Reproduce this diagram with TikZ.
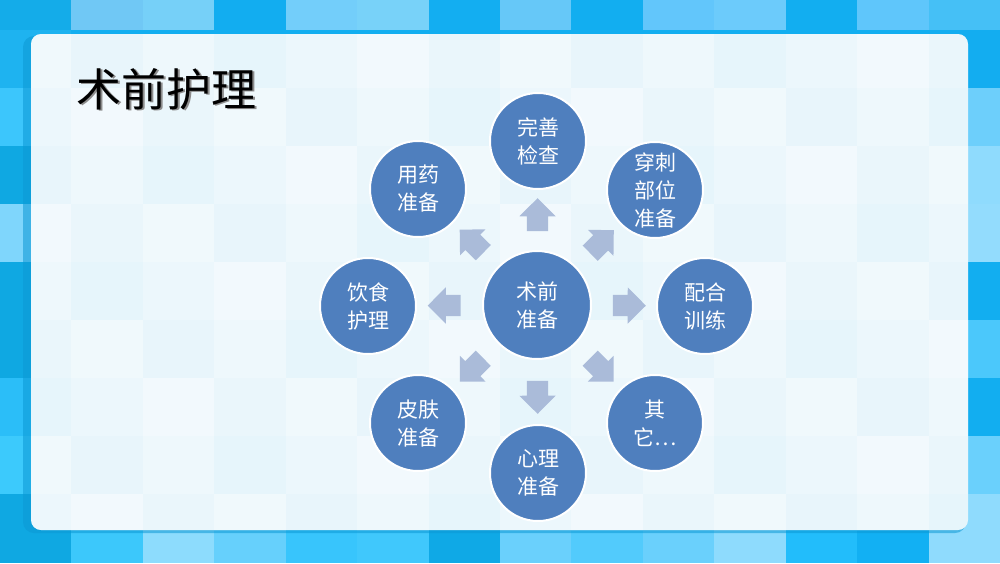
\documentclass[tikz,border=0pt]{standalone}
\usepackage{fontspec}
\newfontfamily\cjk{Noto Sans CJK SC}
\usetikzlibrary{shapes.arrows}
\definecolor{circ}{HTML}{4F7FBE}
\definecolor{arr}{HTML}{AABBD9}
\definecolor{panel}{HTML}{E4F4FB}
\definecolor{shadowc}{HTML}{0C98D4}
\definecolor{basec}{HTML}{12AEF0}
\begin{document}
\begin{tikzpicture}[x=1pt,y=-1pt,
  bub/.style={circle, fill=circ, draw=white, line width=2pt, minimum size=96pt, inner sep=0pt, text=white, align=center, font=\cjk\fontsize{21}{28}\selectfont},
  hub/.style={bub, minimum size=108pt},
  barrow/.style={single arrow, fill=arr, draw=none, minimum height=33pt, single arrow head extend=7.5pt, single arrow tip angle=90, inner xsep=0pt, inner ysep=10.5pt, sloped, allow upside down, pos=0.5}]
\useasboundingbox (0,0) rectangle (1000,563);
% background tiles
\fill[basec] (0,0) rectangle (1000,563);
\foreach \c [count=\i from 0] in {14ACE9,70C8F5,76D0F8,12ADF0,73CEFA,78D2F9,13AEF1,66C8F8,12AEF0,62C6FB,6CCBFB,12AEF0,5FC6FB,45C0F6}{
  \definecolor{tc}{HTML}{\c}
  \fill[tc] (\i*71.43,0) rectangle ++(71.43,30);
}
\foreach \c [count=\i from 0] in {0FA8E2,3CC8FB,8DDCFD,66D0FC,38C5FC,40C8FC,0FA9E6,6AD0FC,52CBFC,6AD0FC,8EDBFD,22BDFB,12B0F3,8FDBFD}{
  \definecolor{tc}{HTML}{\c}
  \fill[tc] (\i*71.43,494) rectangle ++(71.43,69);
}
\foreach \c [count=\j from 0] in {1EB3F0,3CC6FC,0FA8E2,7FD6FC,0FA8E2,0FA8E2,2BBEF8,3CCAFC}{
  \definecolor{tc}{HTML}{\c}
  \fill[tc] (0,30+\j*58) rectangle ++(71.43,58);
}
\foreach \c [count=\j from 0] in {13ADF0,6DCFFB,8FDBFD,93DCFD,12AEF0,4BC8FB,12AEF0,6AD0FC}{
  \definecolor{tc}{HTML}{\c}
  \fill[tc] (928.57,30+\j*58) rectangle ++(71.43,58);
}
% panel
\fill[shadowc, opacity=0.55, rounded corners=11pt] (23,36) rectangle (966,533);
\fill[panel, rounded corners=10pt] (31,34) rectangle (968,530);
\begin{scope}
  \clip[rounded corners=10pt] (31,34) rectangle (968,530);
  \foreach \i in {0,...,13}{
    \foreach \j in {0,...,9}{
      \pgfmathsetmacro\o{mod(\i*3+\j*5,7)/7*0.5+0.1}
      \fill[white, opacity=\o] (\i*71.43,-28+\j*58) rectangle ++(71.43,58);
    }
  }
\end{scope}
% title
\node[anchor=west, text=black!45, font=\cjk\fontsize{45}{45}\selectfont] (titlesh) at (74.5,90.5) {术前护理};
\node[anchor=west, text=black, font=\cjk\fontsize{45}{45}\selectfont] (title) at (73,89) {术前护理};
% nodes
\node[hub] (hub) at (537,305) {术前\\准备};
\node[bub] (n1) at (538,141) {完善\\检查};
\node[bub] (n2) at (655,190) {穿刺\\部位\\准备};
\node[bub] (n3) at (705,306) {配合\\训练};
\node[bub] (n4) at (655,423) {其\\它…};
\node[bub] (n5) at (538,473) {心理\\准备};
\node[bub] (n6) at (418,423) {皮肤\\准备};
\node[bub] (n7) at (368,306) {饮食\\护理};
\node[bub] (n8) at (418,189) {用药\\准备};
% arrows
\foreach \n in {n1,n2,n3,n4,n5,n6,n7,n8}{
  \path (hub) -- node[barrow] {} (\n);
}
\end{tikzpicture}
\end{document}
